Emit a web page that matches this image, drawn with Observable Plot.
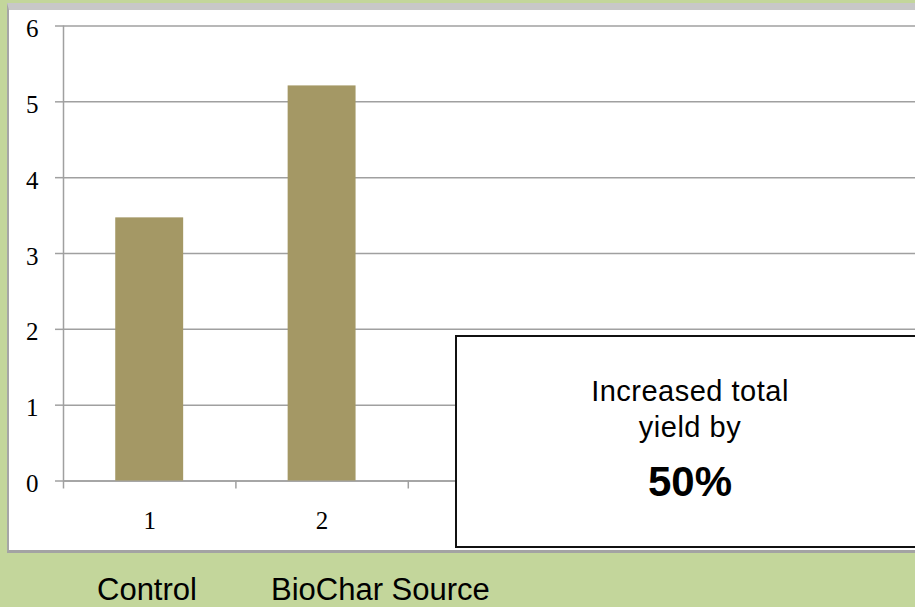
<!DOCTYPE html>
<html>
<head>
<meta charset="utf-8">
<script src="https://cdn.jsdelivr.net/npm/d3@7"></script>
<script src="https://cdn.jsdelivr.net/npm/@observablehq/plot@0.6"></script>
<style>
  html, body { margin: 0; padding: 0; }
  body { width: 915px; height: 607px; background: #c3d69b; position: relative; overflow: hidden; font-family: "Liberation Sans", Arial, sans-serif; }
  #panel { position: absolute; left: 7px; top: 3px; width: 930px; height: 550px; box-sizing: border-box; background: #ffffff; border-left: 2px solid #a6a6a6; border-top: 7px solid #c8c8c8; border-bottom: 3px solid #a3a3a3; }
  #chart { position: absolute; left: 0; top: 0; }
  #note { position: absolute; left: 455px; top: 335px; width: 470px; height: 213px; box-sizing: border-box; background: #ffffff; border: 2px solid #111; }
  .line { position: absolute; left: 0; width: 100%; text-align: center; color: #000; white-space: nowrap; line-height: 1; }
  .cap { position: absolute; top: 574px; font-size: 31px; color: #000; white-space: nowrap; line-height: 1; }
</style>
</head>
<body>
<div id="panel"></div>
<div id="chart"></div>
<div id="note">
  <div class="line" style="top:40px;font-size:29px;letter-spacing:0.5px;">Increased total</div>
  <div class="line" style="top:76px;font-size:29px;letter-spacing:0.5px;">yield by</div>
  <div class="line" style="top:124px;font-size:42px;font-weight:bold;">50%</div>
</div>
<div class="cap" style="left:97px;">Control</div>
<div class="cap" style="left:271px;">BioChar Source</div>
<script>
const categories = [1, 2];
const values = [3.47, 5.21];
const yTicks = [0, 1, 2, 3, 4, 5, 6];
const xTickLabels = ["1", "2"];
const xBoundaries = [0.5, 1.5, 2.5, 3.5, 4.5, 5.5];

const data = categories.map((c, i) => ({cat: c, value: values[i]}));
const grid = "#a0a0a0";

const chart = Plot.plot({
  width: 915,
  height: 550,
  marginLeft: 63,
  marginRight: 0,
  marginTop: 25.5,
  marginBottom: 69.5,
  x: {type: "linear", domain: [0.5, 5.5], range: [63, 925], label: null},
  y: {domain: [0, 6], range: [480.5, 25.5], label: null},
  style: {background: "transparent", overflow: "visible", fontFamily: "'Liberation Serif', 'DejaVu Serif', serif", fontSize: "25px", color: "#000"},
  marks: [
    Plot.gridY(yTicks, {stroke: grid, strokeOpacity: 1, strokeWidth: 1.5}),
    Plot.axisY(yTicks, {label: null, tickSize: 8, stroke: grid, strokeWidth: 1.5, tickFormat: () => ""}),
    Plot.axisY(yTicks, {label: null, tickSize: 0, tickPadding: 25, dy: 3, tickFormat: d => String(d), fill: "#000", fontSize: 25}),
    Plot.ruleX([0.5], {y1: 0, y2: 6, stroke: grid, strokeWidth: 1.5}),
    Plot.ruleY([0], {stroke: grid, strokeWidth: 1.5}),
    Plot.axisX(xBoundaries, {label: null, tickSize: 8, stroke: grid, strokeWidth: 1.5, tickFormat: () => ""}),
    Plot.axisX(categories, {label: null, tickSize: 0, tickPadding: 30, tickFormat: (d, i) => xTickLabels[i], fill: "#000", fontSize: 25}),
    Plot.rectY(data, {x1: d => d.cat - 0.197, x2: d => d.cat + 0.197, y: "value", fill: "#a49865"})
  ]
});
document.getElementById("chart").appendChild(chart);
</script>
</body>
</html>
